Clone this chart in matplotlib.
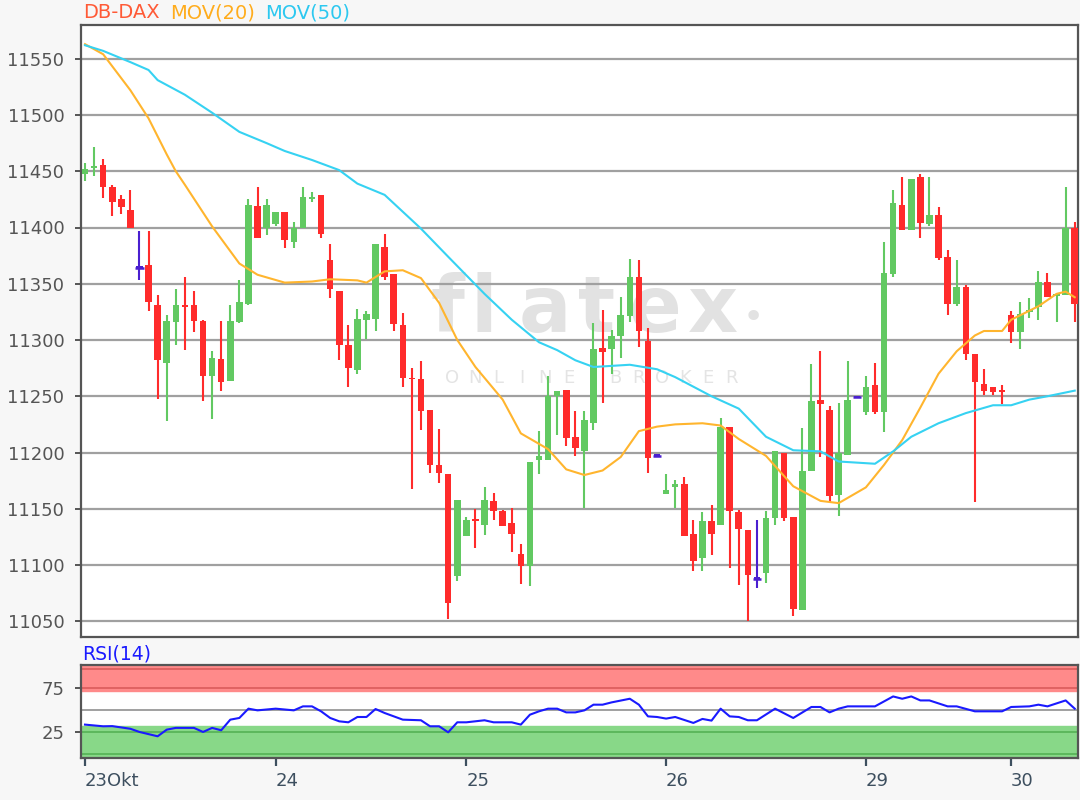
import numpy as np
import matplotlib
matplotlib.use("Agg")
import matplotlib.pyplot as plt

# Kerzen (open, high, low, close), ein Eintrag pro Periode
opens = [11448, 11453, 11456, 11436, 11425, 11416, 11364, 11367, 11331, 11280,
         11316, 11331, 11331, 11317, 11268, 11283, 11264, 11316, 11332, 11419,
         11400, 11403, 11414, 11387, 11400, 11425, 11429, 11371, 11344, 11296,
         11273, 11318, 11319, 11383, 11359, 11313, 11266, 11265, 11238, 11189,
         11181, 11090, 11126, 11140, 11136, 11157, 11148, 11137, 11110, 11099,
         11193, 11193, 11250, 11256, 11214, 11201, 11226, 11293, 11292, 11304,
         11321, 11356, 11299, 11197, 11163, 11169, 11172, 11128, 11106, 11139,
         11136, 11223, 11147, 11131, 11088, 11093, 11142, 11200, 11143, 11060,
         11184, 11247, 11238, 11162, 11198, 11249, 11236, 11260, 11236, 11359,
         11420, 11398, 11445, 11403, 11411, 11374, 11332, 11347, 11288, 11261,
         11258, 11255, 11322, 11307, 11325, 11329, 11352, 11339, 11340, 11400]
highs = [11457, 11472, 11461, 11438, 11429, 11433, 11397, 11397, 11340, 11322,
         11345, 11356, 11344, 11318, 11290, 11317, 11331, 11353, 11425, 11436,
         11425, 11414, 11414, 11405, 11436, 11432, 11429, 11385, 11344, 11313,
         11328, 11326, 11385, 11394, 11359, 11324, 11275, 11281, 11238, 11221,
         11181, 11158, 11143, 11150, 11169, 11164, 11149, 11151, 11119, 11192,
         11219, 11268, 11255, 11256, 11237, 11237, 11315, 11327, 11309, 11338,
         11372, 11371, 11311, 11197, 11181, 11176, 11178, 11140, 11147, 11153,
         11231, 11223, 11149, 11131, 11140, 11148, 11201, 11200, 11143, 11222,
         11279, 11290, 11241, 11244, 11281, 11249, 11268, 11280, 11387, 11433,
         11445, 11443, 11448, 11445, 11418, 11380, 11371, 11349, 11288, 11274,
         11258, 11260, 11326, 11334, 11337, 11361, 11360, 11342, 11436, 11405]
lows = [11441, 11446, 11426, 11410, 11412, 11400, 11353, 11326, 11248, 11228,
        11296, 11291, 11307, 11246, 11230, 11255, 11264, 11315, 11331, 11391,
        11393, 11401, 11382, 11382, 11400, 11423, 11391, 11337, 11282, 11258,
        11270, 11301, 11308, 11353, 11308, 11258, 11168, 11220, 11182, 11173,
        11052, 11086, 11126, 11115, 11127, 11140, 11135, 11112, 11083, 11081,
        11181, 11193, 11216, 11206, 11197, 11151, 11220, 11244, 11270, 11284,
        11316, 11294, 11182, 11197, 11163, 11151, 11126, 11095, 11095, 11109,
        11136, 11097, 11082, 11050, 11080, 11084, 11136, 11139, 11055, 11060,
        11184, 11196, 11156, 11144, 11198, 11249, 11233, 11234, 11218, 11356,
        11398, 11398, 11391, 11401, 11371, 11322, 11330, 11282, 11156, 11251,
        11251, 11243, 11297, 11292, 11320, 11318, 11338, 11316, 11340, 11316]
closes = [11452, 11455, 11436, 11423, 11418, 11400, 11364, 11334, 11282, 11317,
          11331, 11329, 11317, 11268, 11284, 11263, 11317, 11334, 11420, 11391,
          11420, 11414, 11389, 11400, 11427, 11427, 11394, 11345, 11296, 11275,
          11319, 11323, 11385, 11356, 11314, 11266, 11265, 11237, 11189, 11182,
          11066, 11158, 11140, 11139, 11158, 11148, 11135, 11128, 11099, 11192,
          11197, 11250, 11255, 11213, 11204, 11229, 11292, 11289, 11304, 11322,
          11356, 11308, 11195, 11197, 11167, 11172, 11126, 11104, 11139, 11128,
          11223, 11148, 11132, 11091, 11088, 11142, 11201, 11142, 11061, 11184,
          11246, 11243, 11161, 11200, 11247, 11249, 11258, 11236, 11360, 11422,
          11398, 11443, 11404, 11411, 11373, 11332, 11347, 11288, 11263, 11255,
          11254, 11254, 11307, 11323, 11327, 11352, 11338, 11341, 11400, 11332]

ma20_idx = [0, 2, 5, 7, 9, 10, 11, 14, 17, 19, 22, 25, 27, 30, 31, 33, 35, 37, 39, 41,
            43, 46, 48, 51, 53, 55, 57, 59, 61, 63, 65, 68, 70, 72, 75, 78, 81, 83, 86,
            88, 90, 92, 94, 96, 98, 99, 101, 102, 105, 107, 108, 109]
ma20 = [11563, 11554, 11522, 11497, 11465, 11450, 11438, 11401, 11368, 11358, 11351,
        11352, 11354, 11353, 11351, 11361, 11362, 11355, 11333, 11300, 11276, 11247,
        11217, 11203, 11185, 11180, 11184, 11196, 11219, 11223, 11225, 11226, 11224,
        11212, 11197, 11170, 11157, 11155, 11169, 11189, 11211, 11240, 11270, 11290,
        11304, 11308, 11308, 11318, 11330, 11341, 11343, 11338]
ma50_idx = [0, 2, 5, 7, 8, 11, 14, 17, 20, 22, 25, 28, 30, 33, 37, 40, 44, 47, 50, 52,
            54, 56, 60, 63, 65, 69, 72, 75, 78, 81, 83, 87, 89, 91, 94, 97, 100, 102,
            104, 106, 109]
ma50 = [11562, 11557, 11547, 11540, 11531, 11518, 11502, 11485, 11475, 11468, 11460,
        11451, 11439, 11429, 11399, 11374, 11341, 11318, 11298, 11291, 11282, 11276,
        11278, 11274, 11267, 11250, 11239, 11214, 11202, 11201, 11192, 11190, 11201,
        11214, 11226, 11235, 11242, 11242, 11247, 11250, 11255]

# RSI(14)
rsi_idx = [0, 2, 3, 5, 6, 8, 9, 10, 12, 13, 14, 15, 16, 17, 18, 19, 21, 23, 24, 25,
           26, 27, 28, 29, 30, 31, 32, 33, 35, 37, 38, 39, 40, 41, 42, 44, 45, 47, 48,
           49, 50, 51, 52, 53, 54, 55, 56, 57, 58, 60, 61, 62, 63, 64, 65, 67, 68, 69,
           70, 71, 72, 73, 74, 76, 78, 80, 81, 82, 83, 84, 87, 89, 90, 91, 92, 93, 95,
           96, 98, 101, 102, 104, 105, 106, 108, 109]
rsi = [33.7, 31.8, 32, 29, 25.4, 20.5, 28, 30, 30, 25.4, 30, 27.3, 39.3, 41.2, 51.7,
       49.8, 51.7, 49.8, 54.3, 54.3, 48.7, 41.2, 37.4, 36.3, 42.3, 42.3, 51.3, 46.8,
       39.3, 38.6, 31.8, 31.8, 25, 36.3, 36.3, 38.6, 36.3, 36.3, 33.7, 44.9, 48.7,
       51.7, 51.7, 47.5, 47.5, 49.8, 56.2, 56.2, 58.8, 62.9, 56.2, 43, 42.3, 40.5,
       42.3, 35.6, 40.1, 38.2, 51.7, 43, 42.3, 38.6, 38.6, 51.7, 41.2, 53.6, 53.6,
       47.5, 51.7, 54.3, 54.3, 65.5, 62.9, 65.5, 61, 61, 54.3, 54.3, 48.7, 48.7,
       53.6, 54.3, 56.2, 54.3, 61, 51.7]

tick_pos = [0, 21, 42, 64, 86, 102]
tick_labels = ['23Okt', '24', '25', '26', '29', '30']
price_ticks = np.arange(11050, 11551, 50)

W, H = 1080, 800
fig = plt.figure(figsize=(W / 100, H / 100), dpi=100, facecolor='#f7f7f7')
plt.rcParams['font.family'] = ['DejaVu Sans']

def px(x0, y0, x1, y1):
    return [x0 / W, 1 - y1 / H, (x1 - x0) / W, (y1 - y0) / H]

ax = fig.add_axes(px(81, 25, 1078, 637))
ax2 = fig.add_axes(px(81, 665, 1078, 758))

grau = '#555555'
for a in (ax, ax2):
    a.set_facecolor('white')
    a.set_xlim(-0.44, 109.36)
    for s in a.spines.values():
        s.set_color(grau)
        s.set_linewidth(1.6)

# Hauptchart
ax.set_ylim(11036, 11580)
ax.set_yticks(price_ticks)
ax.set_yticklabels([str(v) for v in price_ticks])
ax.tick_params(axis='y', length=4, width=1.4, color=grau, labelcolor='#555555',
               labelsize=13, pad=8)
ax.tick_params(axis='x', length=0, labelbottom=False)
ax.set_axisbelow(True)
ax.yaxis.grid(True, color='#a0a0a0', linewidth=1.6)

# Wasserzeichen
wm = '#e2e2e2'
for ch, x in zip('flatex', [447, 484, 545, 597, 655, 713]):
    ax.text(x / W, 1 - 310 / H, ch, transform=fig.transFigure, fontsize=56,
            fontweight='bold', color=wm, ha='center', va='center', zorder=0.1)
ax.text(753 / W, 1 - 318 / H, '•', transform=fig.transFigure, fontsize=26,
        color=wm, ha='center', va='center', zorder=0.1)
for i, ch in enumerate('ONLINE BROKER'):
    ax.text((452 + i * 23.3) / W, 1 - 378 / H, ch, transform=fig.transFigure,
            fontsize=13, color='#e4e4e4', ha='center', va='center', zorder=0.1)

o = np.array(opens, float)
h = np.array(highs, float)
l = np.array(lows, float)
c = np.array(closes, float)
x = np.arange(len(o))
col = np.where(c > o, '#62c962', np.where(c < o, '#ff2b2b', '#4a1fd0'))

ax.vlines(x, l, h, colors=col, linewidth=1.5, zorder=3)
body = np.maximum(np.abs(c - o), 1.5)
ax.bar(x, body, bottom=np.minimum(o, c), width=0.72, color=col, zorder=4)
doji = c == o
ax.hlines(c[doji], x[doji] - 0.45, x[doji] + 0.45, colors='#4a1fd0', linewidth=1.8, zorder=4)

ax.plot(ma20_idx, ma20, color='#ffb52e', linewidth=1.5, zorder=5)
ax.plot(ma50_idx, ma50, color='#36d2f2', linewidth=1.5, zorder=5)

fig.text(83 / W, 1 - 13 / H, 'DB-DAX', color='#ff5a36', fontsize=14, va='center')
fig.text(170 / W, 1 - 13 / H, 'MOV(20)', color='#ffac1c', fontsize=14, va='center')
fig.text(265 / W, 1 - 13 / H, 'MOV(50)', color='#2cc8f0', fontsize=14, va='center')

# RSI
ax2.set_ylim(-4, 101)
ax2.axhspan(72, 101, color='#ff8a8a', zorder=0.2)
ax2.axhspan(-4, 32, color='#88d888', zorder=0.2)
for v in (75, 97):
    ax2.axhline(v, color='#e06262', linewidth=1.4, zorder=0.3)
for v in (25, 1):
    ax2.axhline(v, color='#5cb85c', linewidth=1.4, zorder=0.3)
ax2.axhline(50, color='#a0a0a0', linewidth=1.4, zorder=0.3)
ax2.plot(rsi_idx, rsi, color='#1a1aff', linewidth=1.5, zorder=3)
ax2.set_yticks([25, 75])
ax2.tick_params(axis='y', length=4, width=1.4, color=grau, labelcolor='#555555',
                labelsize=13, pad=8)
ax2.set_xticks(tick_pos)
ax2.set_xticklabels(tick_labels, ha='left')
ax2.tick_params(axis='x', length=6, width=1.6, color='#3d4f5f', labelcolor='#3d4f5f',
                labelsize=13, pad=4)
for lab in ax2.get_xticklabels():
    lab.set_horizontalalignment('left')
fig.text(82 / W, 1 - 654 / H, 'RSI(14)', color='#1a1aff', fontsize=13.5, va='center')

fig.savefig('out.png', dpi=100, facecolor=fig.get_facecolor())
